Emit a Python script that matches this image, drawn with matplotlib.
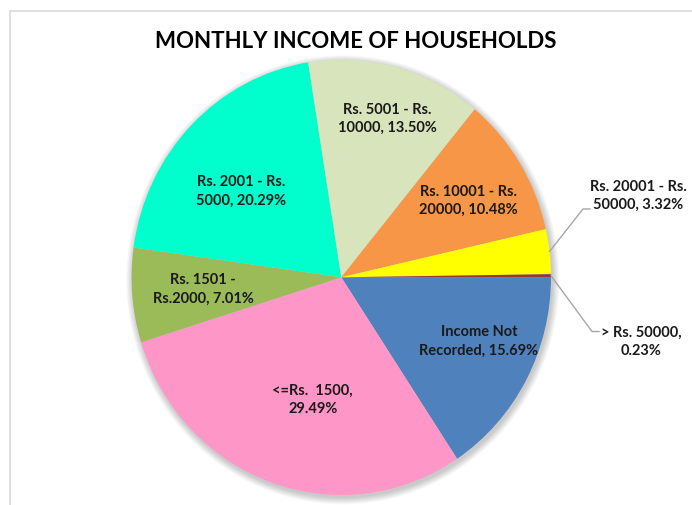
import matplotlib
matplotlib.use("Agg")
import matplotlib.pyplot as plt
from matplotlib.patches import Rectangle, Ellipse
import numpy as np

plt.rcParams['font.family'] = ['Lato', 'DejaVu Sans']

categories = ["Income Not Recorded", "<=Rs.  1500", "Rs. 1501 -\nRs.2000", "Rs. 2001 - Rs.\n5000",
              "Rs. 5001 - Rs.\n10000", "Rs. 10001 - Rs.\n20000", "Rs. 20001 - Rs.\n50000", "> Rs. 50000"]
label_texts = ["Income Not\nRecorded, 15.69%", "<=Rs.  1500,\n29.49%", "Rs. 1501 -\nRs.2000, 7.01%",
               "Rs. 2001 - Rs.\n5000, 20.29%", "Rs. 5001 - Rs.\n10000, 13.50%",
               "Rs. 10001 - Rs.\n20000, 10.48%", "Rs. 20001 - Rs.\n50000, 3.32%", "> Rs. 50000,\n0.23%"]
values = [15.69, 29.49, 7.01, 20.29, 13.50, 10.48, 3.32, 0.23]
colors = ["#4F81BD", "#FF96C8", "#9BBB59", "#00FFCC", "#D8E4BC", "#F79646", "#FFFF00", "#953735"]

W, H = 692, 505
fig = plt.figure(figsize=(W / 100, H / 100), dpi=100)
ax = fig.add_axes([0, 0, 1, 1])
ax.set_xlim(0, W)
ax.set_ylim(0, H)
ax.axis('off')

# chart border
ax.add_patch(Rectangle((10, -5), W, H - 11 + 5, fill=False, edgecolor="#D9D9D9", lw=1.2))

cx, cy = 341.3, H - 277.3
rx, ry = 209.7, 217.7

# soft shadow
for i in range(9):
    ax.add_patch(Ellipse((cx + 1.5, cy - 2.5), 2 * (rx + 0.5 + i * 0.8), 2 * (ry + 0.5 + i * 0.8),
                         facecolor="#000000", alpha=0.022, lw=0, zorder=1))

pax = fig.add_axes([(cx - rx) / W, (cy - ry) / H, 2 * rx / W, 2 * ry / H])
pax.set_zorder(2)
pax.patch.set_alpha(0)
wedges, _ = pax.pie(values, colors=colors, startangle=0, counterclock=False,
                    radius=1, wedgeprops=dict(linewidth=0))
pax.set_aspect('auto')
pax.set_xlim(-1, 1)
pax.set_ylim(-1, 1)
pax.axis('off')

tax = fig.add_axes([0, 0, 1, 1])
tax.set_zorder(3)
tax.patch.set_alpha(0)
tax.set_xlim(0, W)
tax.set_ylim(0, H)
tax.axis('off')

def pt(ang_deg, d):
    a = np.deg2rad(ang_deg)
    return cx + d * rx * np.cos(a), cy + d * ry * np.sin(a)

inside_dist = [0.72, 0.58, 0.66, 0.62, 0.76, 0.70]
inside_off = [4, 6, 0, 5, -1.5, -1.5]
for w, txt, d, off in zip(wedges[:6], label_texts[:6], inside_dist, inside_off):
    x, y = pt((w.theta1 + w.theta2) / 2 + off, d)
    tax.text(x, y, txt, ha='center', va='center',
             fontsize=10.5, fontweight='bold', color='#1A1A1A', linespacing=1.4)

# outside labels with leader lines
lead_col = "#A6A6A6"
w6 = wedges[6]
p0 = pt((w6.theta1 + w6.theta2) / 2, 1.0)
tax.plot([p0[0], 583, 590], [p0[1], H - 209, H - 209], color=lead_col, lw=1)
tax.text(638, H - 196, label_texts[6], ha='center', va='center', fontsize=10.5, fontweight='bold',
         color='#1A1A1A', linespacing=1.4)

w7 = wedges[7]
p1 = pt((w7.theta1 + w7.theta2) / 2, 1.0)
tax.plot([p1[0], 592, 599], [p1[1], H - 331.5, H - 331.5], color=lead_col, lw=1)
tax.text(641, H - 342, label_texts[7], ha='center', va='center', fontsize=10.5, fontweight='bold',
         color='#1A1A1A', linespacing=1.4)

tax.text(356, H - 42, "MONTHLY INCOME OF HOUSEHOLDS", ha='center', va='center',
         fontsize=16, fontweight='bold', color='#000000')

fig.savefig("out.png", dpi=100)
